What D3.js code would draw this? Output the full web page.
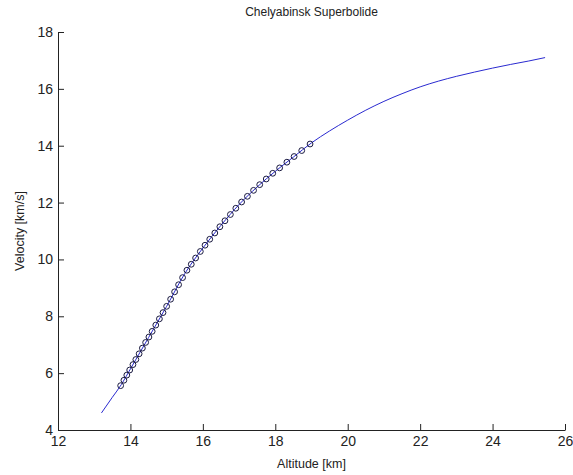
<!DOCTYPE html>
<html>
<head>
<meta charset="utf-8">
<script src="https://cdnjs.cloudflare.com/ajax/libs/d3/7.8.5/d3.min.js"></script>
<style>
body { margin:0; background:#fff; }
text { font-family: "Liberation Sans", Arial, sans-serif; }
</style>
</head>
<body>
<script>
// model curve
var lineAlt = [13.2,13.5,13.75,14.0,14.5,15.0,15.5,16.0,16.5,17.0,17.5,18.0,18.5,19.0,19.5,20.0,20.5,21.0,21.5,22.0,22.5,23.0,23.5,24.0,24.5,25.0,25.45];
var lineVel = [4.6,5.15,5.6,6.15,7.25,8.35,9.5,10.4,11.2,11.93,12.55,13.1,13.6,14.1,14.52,14.9,15.25,15.56,15.83,16.07,16.27,16.44,16.59,16.73,16.86,16.98,17.1];

// observed points
var obsAlt = [13.73,13.82,13.90,13.98,14.07,14.15,14.24,14.33,14.42,14.51,14.60,14.70,14.80,14.90,15.00,15.11,15.22,15.33,15.44,15.56,15.68,15.80,15.93,16.06,16.19,16.33,16.47,16.61,16.76,16.91,17.07,17.23,17.40,17.57,17.75,17.93,18.12,18.32,18.52,18.73,18.96];
var obsVel = [5.56,5.75,5.93,6.11,6.30,6.48,6.68,6.88,7.08,7.27,7.47,7.69,7.91,8.13,8.35,8.60,8.86,9.11,9.36,9.62,9.83,10.05,10.28,10.50,10.71,10.93,11.15,11.36,11.58,11.80,12.02,12.22,12.43,12.63,12.83,13.03,13.22,13.42,13.62,13.83,14.06];

var xTicks = [12,14,16,18,20,22,24,26];
var yTicks = [4,6,8,10,12,14,16,18];

var margin = {top:32, right:8, bottom:45, left:58};
var W = 573, H = 475;
var width = W - margin.left - margin.right;
var height = H - margin.top - margin.bottom;

var x = d3.scaleLinear().domain([12,26]).range([0, width]);
var y = d3.scaleLinear().domain([4,18]).range([height, 0]);

var svg = d3.select("body").append("svg").attr("width", W).attr("height", H);
var g = svg.append("g").attr("transform", "translate(" + margin.left + "," + margin.top + ")");

var xAxis = d3.axisBottom(x).tickValues(xTicks).tickSizeInner(-6).tickSizeOuter(0).tickPadding(6);
var yAxis = d3.axisLeft(y).tickValues(yTicks).tickSizeInner(-6).tickSizeOuter(0).tickPadding(5);

var gx = g.append("g").attr("transform", "translate(0," + height + ")").call(xAxis);
var gy = g.append("g").call(yAxis);
[gx, gy].forEach(function(a){
    a.selectAll("text").attr("font-size", "14px").attr("fill", "#222").style("font-family", "Liberation Sans, Arial, sans-serif");
    a.selectAll("line, path").attr("stroke", "#222");
});

var line = d3.line()
    .x(function(d){ return x(d[0]); })
    .y(function(d){ return y(d[1]); })
    .curve(d3.curveMonotoneX);

g.append("path")
    .datum(lineAlt.map(function(a,i){ return [a, lineVel[i]]; }))
    .attr("d", line)
    .attr("fill", "none")
    .attr("stroke", "#2a2ad0")
    .attr("stroke-width", 1);

g.selectAll("circle.obs")
    .data(obsAlt.map(function(a,i){ return [a, obsVel[i]]; }))
    .enter().append("circle")
    .attr("class", "obs")
    .attr("cx", function(d){ return x(d[0]); })
    .attr("cy", function(d){ return y(d[1]); })
    .attr("r", 2.9)
    .attr("fill", "none")
    .attr("stroke", "#1a1a40")
    .attr("stroke-width", 1);

svg.append("text").attr("x", margin.left + width/2).attr("y", 16)
    .attr("text-anchor", "middle").attr("font-size", "12px").attr("fill", "#222")
    .text("Chelyabinsk Superbolide");

svg.append("text").attr("x", margin.left + width/2).attr("y", 468)
    .attr("text-anchor", "middle").attr("font-size", "12.5px").attr("fill", "#222")
    .text("Altitude [km]");

svg.append("text")
    .attr("transform", "translate(24," + (margin.top + height/2) + ") rotate(-90)")
    .attr("text-anchor", "middle").attr("font-size", "12.5px").attr("fill", "#222")
    .text("Velocity [km/s]");
</script>
</body>
</html>
